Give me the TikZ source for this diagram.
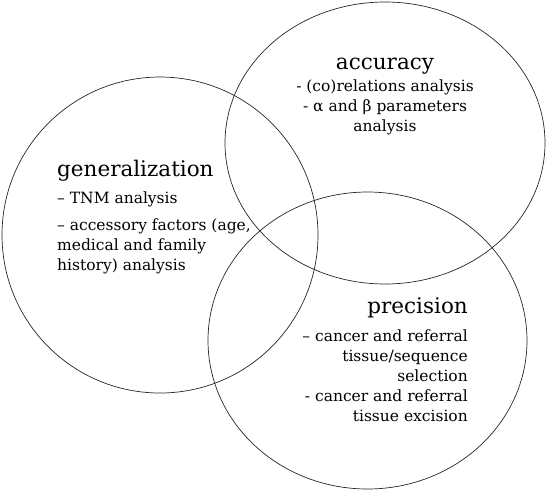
\documentclass[tikz,border=0pt]{standalone}
\usepackage{fontspec}
\setmainfont{DejaVu Serif}
\usetikzlibrary{positioning}

\begin{document}
\begin{tikzpicture}[x=1pt, y=-1pt,
    set/.style={draw=black!85, line width=0.7pt},
    settitle/.style={inner sep=0pt, font=\fontsize{21.5}{24}\selectfont},
    setitems/.style={inner sep=0pt, font=\fontsize{15.5}{20}\selectfont}]
  \useasboundingbox (0,0) rectangle (546,491);

  % the three sets
  \coordinate (gen) at (160,235);
  \coordinate (acc) at (385,143);
  \coordinate (pre) at (367.5,340.5);
  \draw[set] (gen) circle[x radius=158, y radius=158];
  \draw[set] (acc) circle[x radius=160, y radius=141];
  \draw[set] (pre) circle[x radius=159.5, y radius=148.5];

  % accuracy
  \node[settitle, anchor=base] (accT) at (385,69) {accuracy};
  \node[setitems, align=center, below=6pt of accT] (accL) {%
    - (co)relations analysis\\
    - α and β parameters\\
    analysis};

  % generalization
  \node[settitle, anchor=base west] (genT) at (57,176) {generalization};
  \node[setitems, align=left, below=11pt of genT.south west, anchor=north west] (genL) {%
    – TNM analysis\\[7pt]
    – accessory factors (age,\\
    medical and family\\
    history) analysis};

  % precision
  \node[settitle, anchor=base east] (preT) at (468,313) {precision};
  \node[setitems, align=right, below=11.5pt of preT.south east, anchor=north east] (preL) {%
    – cancer and referral\\
    tissue/sequence\\
    selection\\
    - cancer and referral\\
    tissue excision};
\end{tikzpicture}
\end{document}
